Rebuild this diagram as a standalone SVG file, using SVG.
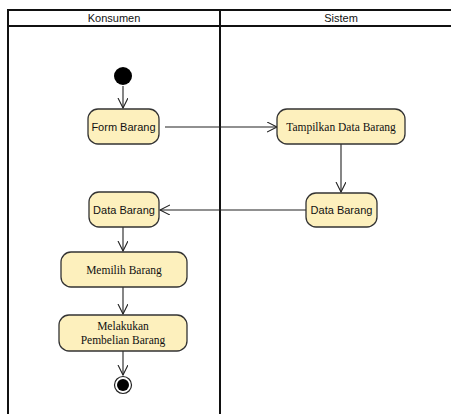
<svg xmlns="http://www.w3.org/2000/svg" width="451" height="414" viewBox="0 0 451 414">
<style>
.lane{fill:none;stroke:#111;stroke-width:2}
.act{fill:#fdf0bd;stroke:#333;stroke-width:1.3}
.sans{font-family:"Liberation Sans",Arial,sans-serif;font-size:11px;fill:#111;text-anchor:middle}
.serif{font-family:"Liberation Serif","Times New Roman",serif;font-size:11.5px;fill:#111;text-anchor:middle}
.edge{fill:none;stroke:#222;stroke-width:1.1}
</style>
<defs>
<marker id="arr" markerWidth="12" markerHeight="12" refX="10" refY="5" orient="auto" markerUnits="userSpaceOnUse">
<path d="M0,0 L10,5 L0,10" fill="none" stroke="#222" stroke-width="1.1"/>
</marker>
</defs>
<rect width="451" height="414" fill="#fff"/>
<g id="swimlanes">
<path class="lane" d="M8,414 V10 H451 M8,26 H451 M220,10 V414"/>
<text class="sans" x="114" y="22">Konsumen</text>
<text class="sans" x="341" y="22">Sistem</text>
</g>
<g id="connectors">
<path class="edge" d="M123,86 V108" marker-end="url(#arr)"/>
<path class="edge" d="M165,127 H277" marker-end="url(#arr)"/>
<path class="edge" d="M341,144 V192" marker-end="url(#arr)"/>
<path class="edge" d="M306,210 H160" marker-end="url(#arr)"/>
<path class="edge" d="M123,227 V251" marker-end="url(#arr)"/>
<path class="edge" d="M123,287 V314" marker-end="url(#arr)"/>
<path class="edge" d="M123,351 V375" marker-end="url(#arr)"/>
</g>
<g id="start"><circle cx="123" cy="76" r="9" fill="#000"/></g>
<g id="form-barang">
<rect class="act" x="88" y="109" width="71" height="35" rx="10"/>
<text class="sans" x="123.5" y="130.5">Form Barang</text>
</g>
<g id="tampilkan-data-barang">
<rect class="act" x="277" y="109" width="128" height="35" rx="10"/>
<text class="serif" x="341" y="130.5">Tampilkan Data Barang</text>
</g>
<g id="data-barang-sistem">
<rect class="act" x="306" y="193" width="71" height="34" rx="10"/>
<text class="sans" x="341.5" y="214">Data Barang</text>
</g>
<g id="data-barang-konsumen">
<rect class="act" x="89" y="192" width="70" height="35" rx="10"/>
<text class="sans" x="124" y="214">Data Barang</text>
</g>
<g id="memilih-barang">
<rect class="act" x="61" y="252" width="126" height="35" rx="10"/>
<text class="serif" x="124" y="273.5">Memilih Barang</text>
</g>
<g id="melakukan-pembelian-barang">
<rect class="act" x="59" y="315" width="128" height="36" rx="10"/>
<text class="serif" x="123" y="329.5">Melakukan</text>
<text class="serif" x="123" y="343.5">Pembelian Barang</text>
</g>
<g id="end">
<circle cx="123" cy="385" r="8.5" fill="#fff" stroke="#222" stroke-width="1.2"/>
<circle cx="123" cy="385" r="6" fill="#000"/>
</g>
</svg>
